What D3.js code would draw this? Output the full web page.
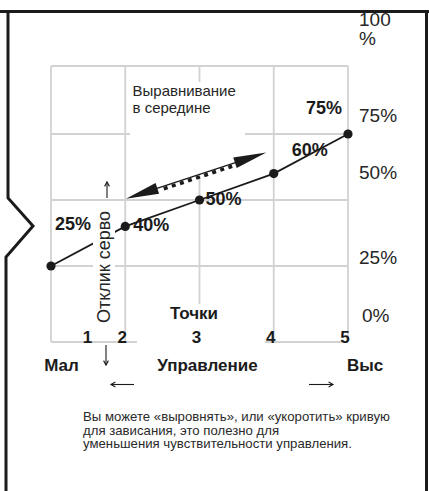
<!DOCTYPE html>
<html>
<head>
<meta charset="utf-8">
<script src="https://cdn.jsdelivr.net/npm/d3@7"></script>
<style>
  html, body { margin: 0; padding: 0; background: #fff; }
  svg { display: block; font-family: "Liberation Sans", Arial, Helvetica, sans-serif; }
</style>
</head>
<body>
<svg id="chart" width="429" height="491"></svg>
<script>
// Throttle curve: stick point (1–5) against servo response (%)
const points = [1, 2, 3, 4, 5];
const servoPercent = [25, 40, 50, 60, 75];
const pointValueLabels = ["25%", "40%", "50%", "60%", "75%"];
const pointTickLabels = ["1", "2", "3", "4", "5"];
const responseTicks = [0, 25, 50, 75, 100];
const responseTickLabels = [["0%"], ["25%"], ["50%"], ["75%"], ["100", "%"]];
const gridLevels = [25, 50, 75];
const stickLabels = ["Мал", "Управление", "Выс"];
const flattenArrow = { from: [2.01, 50.5], to: [3.9, 68] };
const noteLines = [
  "Вы можете «выровнять», или «укоротить» кривую",
  "для зависания, это полезно для",
  "уменьшения чувствительности управления."
];

const svg = d3.select("#chart");
const ink = "#1b1b1b";
const gridColor = "#d2d2d2";

// plot frame
const plot = { left: 51, right: 348, top: 66, bottom: 342 };
const x = d3.scaleLinear().domain([1, 5]).range([plot.left, plot.right]);
const y = d3.scaleLinear().domain([0, 100]).range([332, 68]);

// page border with the torn-edge notch on the left
svg.append("path")
  .attr("d", "M0,11.5 H429")
  .attr("stroke", ink).attr("stroke-width", 3).attr("fill", "none");
svg.append("path")
  .attr("d", "M426.5,11.5 V491")
  .attr("stroke", ink).attr("stroke-width", 3).attr("fill", "none");
svg.append("path")
  .attr("d", "M8,11.5 V198 L33,226 L6,257 V491")
  .attr("stroke", ink).attr("stroke-width", 3).attr("fill", "none")
  .attr("stroke-linejoin", "miter");

// grid
const grid = svg.append("g").attr("stroke", gridColor).attr("stroke-width", 1.8);
grid.selectAll("line.v").data(points).join("line")
  .attr("class", "v")
  .attr("x1", d => x(d)).attr("x2", d => x(d))
  .attr("y1", plot.top).attr("y2", plot.bottom);
grid.selectAll("line.h").data(gridLevels).join("line")
  .attr("class", "h")
  .attr("x1", plot.left).attr("x2", plot.right)
  .attr("y1", d => y(d)).attr("y2", d => y(d));
grid.selectAll("line.edge").data([plot.top, plot.bottom]).join("line")
  .attr("class", "edge")
  .attr("x1", plot.left).attr("x2", plot.right)
  .attr("y1", d => d).attr("y2", d => d);

// curve
const curve = points.map((p, i) => [p, servoPercent[i]]);
svg.append("path")
  .datum(curve)
  .attr("d", d3.line().x(d => x(d[0])).y(d => y(d[1])))
  .attr("fill", "none").attr("stroke", ink).attr("stroke-width", 1.8);
svg.selectAll("circle.pt").data(curve).join("circle")
  .attr("class", "pt")
  .attr("cx", d => x(d[0])).attr("cy", d => y(d[1]))
  .attr("r", 4.6).attr("fill", ink);

// white panels behind the annotations
const panels = [
  { x: 130, y: 82, w: 115, h: 94 },
  { x: 137, y: 304, w: 128, h: 48 },
  { x: 93, y: 205, w: 22, h: 123 }
];
svg.selectAll("rect.panel").data(panels).join("rect")
  .attr("class", "panel")
  .attr("x", d => d.x).attr("y", d => d.y)
  .attr("width", d => d.w).attr("height", d => d.h)
  .attr("fill", "#fff");

// double-headed "flatten the middle" arrow
(function () {
  const p0 = [x(flattenArrow.from[0]), y(flattenArrow.from[1])];
  const p1 = [x(flattenArrow.to[0]), y(flattenArrow.to[1])];
  const dx = p1[0] - p0[0], dy = p1[1] - p0[1];
  const len = Math.hypot(dx, dy);
  const u = [dx / len, dy / len];
  const n = [-u[1], u[0]];           // points downward for this direction
  const L = 33, w = 5.6;
  const head = (tip, dir) => {
    const bx = tip[0] + dir * u[0] * L, by = tip[1] + dir * u[1] * L;
    return `M${tip[0]},${tip[1]} L${bx + n[0] * w},${by + n[1] * w} L${bx - n[0] * w},${by - n[1] * w} Z`;
  };
  const g = svg.append("g");
  const b0 = [p0[0] + u[0] * L, p0[1] + u[1] * L];
  const b1 = [p1[0] - u[0] * L, p1[1] - u[1] * L];
  g.append("line")
    .attr("x1", b0[0] - u[0] * 2).attr("y1", b0[1] - u[1] * 2)
    .attr("x2", b1[0] + u[0] * 2).attr("y2", b1[1] + u[1] * 2)
    .attr("stroke", ink).attr("stroke-width", 1.3);
  g.append("line")
    .attr("x1", b0[0] + u[0] * 6 + n[0] * 2.4).attr("y1", b0[1] + u[1] * 6 + n[1] * 2.4)
    .attr("x2", b1[0] + n[0] * 2.4).attr("y2", b1[1] + n[1] * 2.4)
    .attr("stroke", ink).attr("stroke-width", 3.6)
    .attr("stroke-dasharray", "4 4.5");
  g.append("path").attr("d", head(p0, 1)).attr("fill", ink);
  g.append("path").attr("d", head(p1, -1)).attr("fill", ink);
})();

// value labels next to each point
const labelOffsets = [
  { dx: 4, dy: -36, anchor: "start" },
  { dx: 8, dy: 5, anchor: "start" },
  { dx: 6, dy: 5, anchor: "start" },
  { dx: 18, dy: -18, anchor: "start" },
  { dx: -6, dy: -20, anchor: "end" }
];
svg.selectAll("text.val").data(curve).join("text")
  .attr("class", "val")
  .attr("x", (d, i) => x(d[0]) + labelOffsets[i].dx)
  .attr("y", (d, i) => y(d[1]) + labelOffsets[i].dy)
  .attr("text-anchor", (d, i) => labelOffsets[i].anchor)
  .attr("font-size", 18).attr("font-weight", "bold").attr("fill", ink)
  .text((d, i) => pointValueLabels[i]);

// point numbers under the grid
svg.selectAll("text.tick").data(points).join("text")
  .attr("class", "tick")
  .attr("x", (d, i) => x(d) + (i === 0 ? 36.5 : -3))
  .attr("y", 342.5)
  .attr("text-anchor", "middle")
  .attr("font-size", 17).attr("font-weight", "bold").attr("fill", ink)
  .text((d, i) => pointTickLabels[i]);

svg.append("text")
  .attr("x", 194).attr("y", 319)
  .attr("text-anchor", "middle")
  .attr("font-size", 17).attr("font-weight", "bold").attr("fill", ink)
  .text("Точки");

// response scale on the right
const rightDy = [-10, -2, -21, -12, -42];
const rightLabels = svg.selectAll("text.resp").data(responseTicks).join("text")
  .attr("class", "resp")
  .attr("x", (d, i) => 359 + (i === 0 ? 3 : 0))
  .attr("y", (d, i) => y(d) + rightDy[i])
  .attr("font-size", 19).attr("fill", "#262626");
rightLabels.selectAll("tspan").data((d, i) => responseTickLabels[i]).join("tspan")
  .attr("x", function () { return d3.select(this.parentNode).attr("x"); })
  .attr("dy", (d, j) => j === 0 ? 0 : 19)
  .text(d => d);

// annotation text
svg.append("text")
  .attr("x", 132.5).attr("y", 96)
  .attr("font-size", 15).attr("fill", "#262626")
  .text("Выравнивание");
svg.append("text")
  .attr("x", 132.5).attr("y", 113.3)
  .attr("font-size", 15).attr("fill", "#262626")
  .text("в середине");

// servo response axis title with arrows
svg.append("text")
  .attr("transform", "translate(110,267) rotate(-90)")
  .attr("text-anchor", "middle")
  .attr("font-size", 18).attr("fill", "#262626")
  .text("Отклик серво");

function arrow(x1, y1, x2, y2) {
  const a = Math.atan2(y2 - y1, x2 - x1);
  const h = 5, s = 0.5;
  const g = svg.append("g").attr("stroke", ink).attr("stroke-width", 1.1).attr("fill", "none");
  g.append("line").attr("x1", x1).attr("y1", y1).attr("x2", x2).attr("y2", y2);
  g.append("path").attr("d",
    `M${x2 - h * Math.cos(a - s)},${y2 - h * Math.sin(a - s)} L${x2},${y2} L${x2 - h * Math.cos(a + s)},${y2 - h * Math.sin(a + s)}`);
}
arrow(107, 198, 107, 182);
arrow(106, 345, 106, 365);
arrow(134, 384.5, 111, 384.5);
arrow(309, 384.5, 333, 384.5);

// stick axis: low / control / high
const stickX = [61.5, 207.5, 365];
svg.selectAll("text.stick").data(stickLabels).join("text")
  .attr("class", "stick")
  .attr("x", (d, i) => stickX[i]).attr("y", 371)
  .attr("text-anchor", "middle")
  .attr("font-size", 17).attr("font-weight", "bold").attr("fill", ink)
  .text(d => d);

// note
svg.selectAll("text.note").data(noteLines).join("text")
  .attr("class", "note")
  .attr("x", 83).attr("y", (d, i) => 421 + i * 13.7)
  .attr("font-size", 13.2).attr("fill", "#2a2a2a")
  .text(d => d);
</script>
</body>
</html>
